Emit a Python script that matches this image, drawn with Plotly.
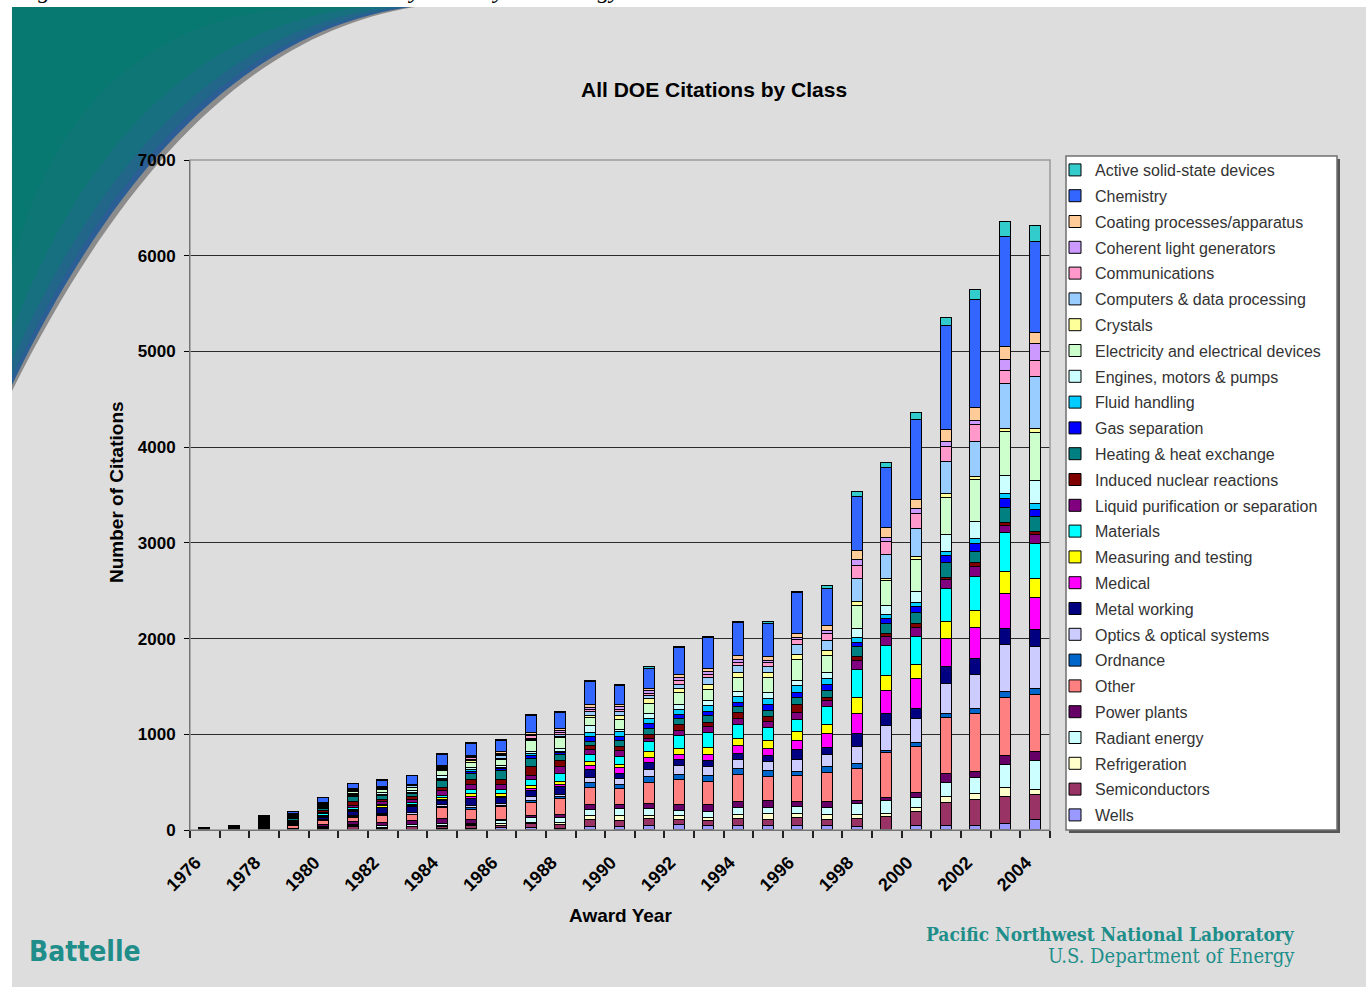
import plotly.graph_objects as go

# ---------------- data ----------------
years = list(range(1976, 2005))
year_labels = [str(y) for y in years[::2]]

classes = [
    "Active solid-state devices", "Chemistry", "Coating processes/apparatus",
    "Coherent light generators", "Communications", "Computers & data processing",
    "Crystals", "Electricity and electrical devices", "Engines, motors & pumps",
    "Fluid handling", "Gas separation", "Heating & heat exchange",
    "Induced nuclear reactions", "Liquid purification or separation", "Materials",
    "Measuring and testing", "Medical", "Metal working", "Optics & optical systems",
    "Ordnance", "Other", "Power plants", "Radiant energy", "Refrigeration",
    "Semiconductors", "Wells",
]

active      = [0,0,2,2,3,3,3,4,4,5,3,10,8,10,10,20,15,15,15,25,15,25,53,55,65,80,100,155,172]
chemistry   = [0,5,15,20,45,50,70,90,115,125,125,175,170,240,200,215,275,320,340,340,420,390,564,630,838,1091,1127,1143,947]
coating     = [0,0,3,3,5,6,6,7,13,17,15,18,17,28,17,22,40,35,45,42,42,52,87,100,100,117,140,140,117]
coherent    = [0,0,2,2,3,4,4,4,5,6,10,15,20,20,28,25,25,25,28,25,28,35,72,45,50,60,45,110,170]
communic    = [0,0,3,3,5,6,6,7,13,18,15,25,20,22,25,25,40,35,30,35,52,70,130,130,150,150,170,140,170]
computers   = [0,2,4,5,8,10,10,12,15,18,25,18,22,45,45,35,40,70,75,70,105,105,238,255,300,340,370,470,545]
crystals    = [0,0,2,2,3,4,4,4,10,15,12,10,15,15,35,45,45,50,50,50,55,50,43,25,30,40,30,30,45]
electricity = [0,3,10,15,15,18,30,30,50,55,67,110,110,85,110,110,130,118,145,155,210,175,243,255,330,380,435,460,500]
engines     = [5,3,8,8,12,15,18,18,30,20,18,20,30,70,17,50,50,55,60,60,60,70,97,100,120,180,180,190,240]
fluid       = [0,0,4,4,6,8,8,8,10,20,15,20,20,45,50,55,50,60,60,65,70,65,45,40,35,45,55,50,65]
gas_sep     = [0,0,4,4,6,8,8,8,10,25,20,30,20,50,50,45,45,45,40,60,50,60,42,45,70,70,85,100,70]
heating     = [0,5,12,20,25,55,40,35,80,60,92,90,60,50,55,65,60,72,60,65,80,70,113,107,115,155,115,150,155]
induced     = [0,3,10,10,20,40,20,30,25,46,51,90,60,40,45,40,60,45,70,55,80,35,40,35,35,30,40,30,30]
liquid      = [0,2,6,6,10,22,29,25,50,60,47,48,75,45,60,35,52,55,55,60,70,63,87,95,95,85,100,80,100]
materials   = [0,3,8,8,20,18,18,20,28,40,42,55,85,80,85,105,144,165,150,140,130,190,302,310,300,350,355,400,360]
measuring   = [0,2,6,6,15,16,15,15,18,28,35,35,28,40,35,60,55,68,70,80,95,87,160,155,140,177,177,230,200]
medical     = [0,0,3,3,5,6,6,7,15,18,15,18,20,45,55,55,55,62,90,70,90,145,215,240,310,290,327,370,340]
metal       = [0,3,8,13,28,47,55,70,40,80,60,67,84,75,60,70,65,65,60,70,100,80,133,130,112,177,172,170,175]
optics      = [0,0,4,5,8,12,15,15,18,20,18,45,25,60,55,80,90,90,90,87,125,120,175,260,247,313,350,485,440]
ordnance    = [0,0,2,2,4,5,5,5,15,15,17,20,20,45,45,55,55,65,65,65,50,60,51,25,45,45,55,70,60]
other       = [3,8,14,35,40,45,77,63,115,112,128,130,165,180,165,220,260,245,280,250,270,305,335,465,475,590,600,600,590]
power       = [0,2,4,2,17,30,35,40,45,35,18,25,35,50,50,55,60,65,65,70,55,65,35,35,60,85,70,100,95]
radiant     = [8,4,8,4,14,15,15,15,28,18,28,45,50,65,70,75,52,62,75,70,70,70,110,130,95,150,163,240,310]
refrig      = [4,0,3,1,6,10,8,8,10,12,15,18,18,45,50,25,50,40,40,60,45,55,40,30,45,60,60,90,45]
semis       = [0,0,3,1,8,22,10,22,22,25,30,40,40,70,60,75,50,52,76,60,76,60,90,135,150,243,280,280,270]
wells       = [0,0,2,1,4,5,5,5,6,12,17,20,15,33,35,44,50,38,40,45,45,45,30,5,40,42,38,65,100]

series = [active, chemistry, coating, coherent, communic, computers, crystals,
          electricity, engines, fluid, gas_sep, heating, induced, liquid, materials,
          measuring, medical, metal, optics, ordnance, other, power, radiant,
          refrig, semis, wells]

colors = ["#33CCCC", "#3366FF", "#FFCC99", "#CC99FF", "#FF99CC", "#99CCFF", "#FFFF99",
          "#CCFFCC", "#CCFFFF", "#00CCFF", "#0000FF", "#008080", "#800000", "#800080",
          "#00FFFF", "#FFFF00", "#FF00FF", "#000080", "#CCCCFF", "#0066CC", "#FF8080",
          "#660066", "#CCFFFF", "#FFFFCC", "#993366", "#9999FF"]

# ---------------- geometry helpers ----------------
W, H = 1369, 987
L, R, T, B = 190, 1050, 160, 830


def px(x):
    return (x - L) / (R - L)


def py(y):
    return (B - y) / (B - T)


def path(cmds):
    out = []
    for c in cmds:
        if isinstance(c, str):
            out.append(c)
        else:
            out.append(f"{px(c[0]):.5f},{py(c[1]):.5f}")
    return " ".join(out)


fig = go.Figure()

# stack bottom (Wells) first; legend rank keeps Active on top of the legend
n = len(classes)
for i in range(n - 1, -1, -1):
    fig.add_trace(go.Bar(
        x=years, y=series[i], name=classes[i], legendgroup=classes[i],
        legendrank=i + 1, width=0.37,
        marker=dict(color=colors[i], line=dict(color="black", width=1)),
    ))

shapes = []
# slide background
shapes.append(dict(type="rect", xref="paper", yref="paper", layer="below",
                   x0=px(12), x1=px(1366), y0=py(7), y1=py(990),
                   fillcolor="#DDDDDD", line=dict(width=0)))
# swoosh shadow
shapes.append(dict(type="path", xref="paper", yref="paper", layer="below",
                   path=path(["M", (12, 7), "L", (415, 7), "C", (255, 32), (125, 165), (12, 391), "Z"]),
                   fillcolor="#8C8C8C", line=dict(width=0)))
# swoosh layers (approximate gradient)
for d, col in [(0, "#2A5E94"), (5, "#22668A"), (14, "#177080"), (32, "#0F7676"), (70, "#087970")]:
    shapes.append(dict(type="path", xref="paper", yref="paper", layer="below",
                       path=path(["M", (12, 7), "L", (410 - d * 1.3, 7), "C",
                                  (250 - d * 1.2, 30 - d * 0.3), (120 - d * 0.9, 160 - d * 1.0),
                                  (12, 385 - d * 1.7), "Z"]),
                       fillcolor=col, line=dict(width=0)))
# legend box with shadow
shapes.append(dict(type="rect", xref="paper", yref="paper", layer="below",
                   x0=px(1069), x1=px(1340), y0=py(159), y1=py(833),
                   fillcolor="#555555", line=dict(width=0)))
shapes.append(dict(type="rect", xref="paper", yref="paper", layer="below",
                   x0=px(1066), x1=px(1337), y0=py(156), y1=py(830),
                   fillcolor="white", line=dict(color="#707070", width=1.5)))
# plot area border
shapes.append(dict(type="rect", xref="paper", yref="paper", layer="above",
                   x0=0, x1=1, y0=0, y1=1, line=dict(color="#9A9A9A", width=1.5)))

teal = "#1F8E8A"
annotations = [
    dict(text="<i>Figure 4. Citations to Patents Awarded by DOE by Technology Area</i>",
         x=px(14), y=py(5), xanchor="left", yanchor="bottom",
         font=dict(family="Liberation Serif, serif", size=24, color="black")),
    dict(text="<b>All DOE Citations by Class</b>", x=px(714), y=py(89),
         xanchor="center", yanchor="middle",
         font=dict(family="Liberation Sans, Arial", size=21, color="black")),
    dict(text="<b>Number of Citations</b>", x=px(116), y=py(492), textangle=-90,
         xanchor="center", yanchor="middle",
         font=dict(family="Liberation Sans, Arial", size=19, color="black")),
    dict(text="<b>Award Year</b>", x=px(620), y=py(916),
         xanchor="center", yanchor="middle",
         font=dict(family="Liberation Sans, Arial", size=19, color="black")),
    dict(text="<b>Battelle</b>", x=px(85), y=py(951),
         xanchor="center", yanchor="middle",
         font=dict(family="DejaVu Sans Condensed, Liberation Sans Narrow, sans-serif", size=28, color=teal)),
    dict(text="<b>Pacific Northwest National Laboratory</b>", x=px(1297), y=py(934),
         xanchor="right", yanchor="middle",
         font=dict(family="DejaVu Serif Condensed, serif", size=19, color=teal)),
    dict(text="U.S. Department of Energy", x=px(1297), y=py(956),
         xanchor="right", yanchor="middle",
         font=dict(family="DejaVu Serif Condensed, serif", size=20, color=teal)),
]
for a in annotations:
    a.update(xref="paper", yref="paper", showarrow=False)

fig.update_layout(
    width=W, height=H, autosize=False,
    margin=dict(l=L, r=W - R, t=T, b=H - B, pad=0),
    paper_bgcolor="white", plot_bgcolor="#C0C0C0",
    barmode="stack", bargap=0,
    font=dict(family="Liberation Sans, Arial", color="black"),
    showlegend=True,
    legend=dict(x=px(1055), y=py(153), xanchor="left", yanchor="top",
                traceorder="grouped", tracegroupgap=2, maxheight=900,
                font=dict(family="Liberation Sans, Arial", size=16, color="#333333"),
                bgcolor="rgba(0,0,0,0)", borderwidth=0),
    shapes=shapes, annotations=annotations,
)

fig.update_xaxes(
    range=[1975.5, 2004.5], tickmode="array", tickvals=years[::2], ticktext=year_labels,
    tickangle=-45, ticks="", showgrid=False, zeroline=False,
    showline=True, linecolor="black", linewidth=1,
    tickfont=dict(family="Liberation Sans, Arial", size=18, color="black", weight="bold"),
    ticklabelstandoff=14, ticklabelshift=-9,
    minor=dict(tickmode="array", tickvals=[y - 0.5 for y in years] + [years[-1] + 0.5],
               ticks="outside", ticklen=7, tickwidth=2, tickcolor="#222222", showgrid=False),
)
fig.update_yaxes(
    range=[0, 7000], tick0=0, dtick=1000, ticks="outside", ticklen=5, tickcolor="black",
    showgrid=True, gridcolor="#2B2B2B", gridwidth=1, zeroline=False,
    showline=True, linecolor="black", linewidth=1, ticklabelstandoff=5,
    tickfont=dict(family="Liberation Sans, Arial", size=17, color="black", weight="bold"),
)

fig.write_html(
    "out.html",
    config={"displayModeBar": False},
    post_script="document.body.style.margin='0';document.body.style.overflow='hidden';",
)
